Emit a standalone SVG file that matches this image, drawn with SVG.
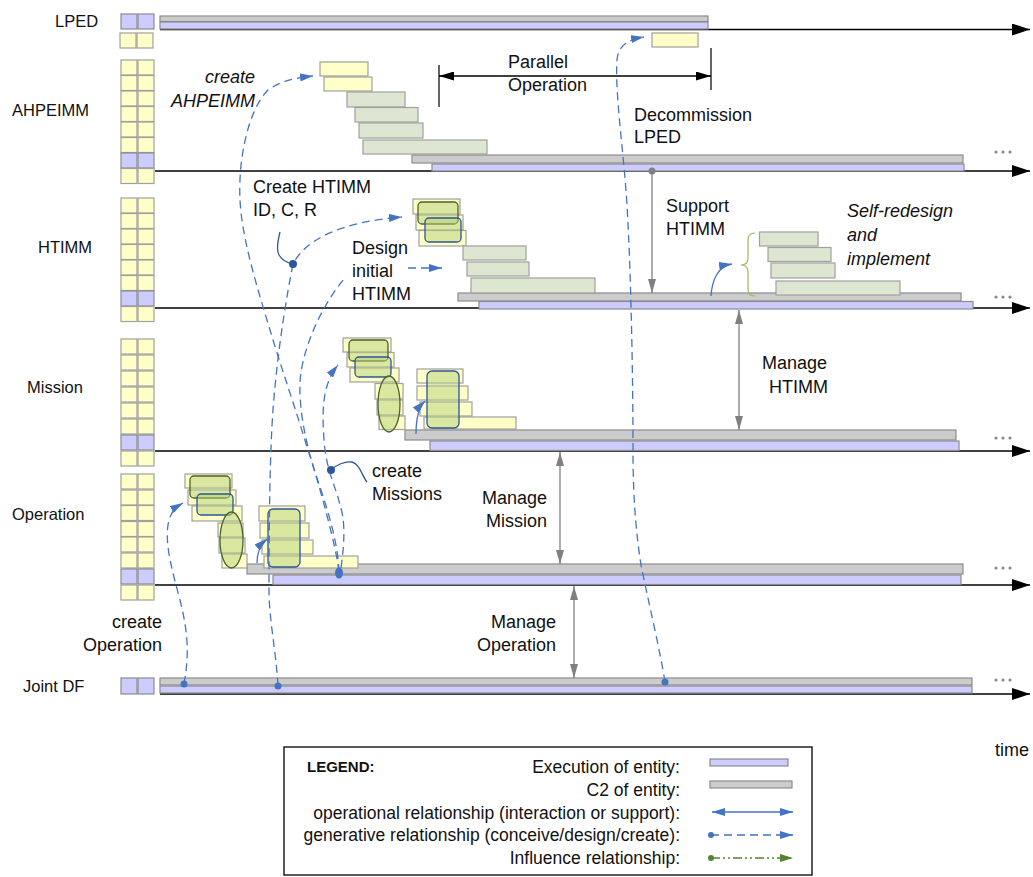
<svg xmlns="http://www.w3.org/2000/svg" width="1033" height="877" viewBox="0 0 1033 877">
<defs>
<style>
.lbl{font-family:"Liberation Sans",Arial,sans-serif;font-size:16.5px;fill:#111}
.ann{font-family:"Liberation Sans",Arial,sans-serif;font-size:18px;fill:#111}
.it{font-style:italic}
.lg{font-family:"Liberation Sans",Arial,sans-serif;font-size:17.5px;fill:#111;text-anchor:end}
.y{fill:#FFFFC8;stroke:#A0A0A0;stroke-width:1.2}
.p{fill:#CCCCFF;stroke:#8C8C8C;stroke-width:1.2}
.g{fill:#CCCCCC;stroke:#8C8C8C;stroke-width:1.2}
.gr{fill:#DCE6D0;stroke:#A0A0A0;stroke-width:1.2}
.ovg{fill:#B5CF7A;fill-opacity:.5;stroke:#4F6228;stroke-width:1.3}
.ovb{fill:#B5CF7A;fill-opacity:.5;stroke:#2F5597;stroke-width:1.3}
.ax{stroke:#000;stroke-width:1.3;fill:none;marker-end:url(#ah)}
.gen{stroke:#4472C4;stroke-width:1.3;fill:none;stroke-dasharray:8 5;marker-end:url(#ab)}
.op{stroke:#4472C4;stroke-width:1.3;fill:none;marker-end:url(#ab)}
.gy{stroke:#808080;stroke-width:1.3;fill:none;marker-end:url(#ag)}
.gy2{stroke:#808080;stroke-width:1.3;fill:none;marker-start:url(#ag);marker-end:url(#ag)}
.co{stroke:#2F5597;stroke-width:1.3;fill:none}
.dt{fill:#888}
</style>
<marker id="ah" markerUnits="userSpaceOnUse" markerWidth="20" markerHeight="12" refX="18" refY="6" orient="auto"><path d="M0,0 L18,6 L0,12 Z" fill="#000"/></marker>
<marker id="ak" markerUnits="userSpaceOnUse" markerWidth="16" markerHeight="9" refX="15" refY="4.5" orient="auto-start-reverse"><path d="M0,0 L15,4.5 L0,9 Z" fill="#000"/></marker>
<marker id="ab" markerUnits="userSpaceOnUse" markerWidth="14" markerHeight="8" refX="13" refY="4" orient="auto-start-reverse"><path d="M0,0 L13,4 L0,8 Z" fill="#4472C4"/></marker>
<marker id="ag" markerUnits="userSpaceOnUse" markerWidth="14" markerHeight="8" refX="14" refY="4" orient="auto-start-reverse"><path d="M0,0 L14,4 L0,8 Z" fill="#808080"/></marker>
<marker id="agr" markerUnits="userSpaceOnUse" markerWidth="14" markerHeight="8" refX="13" refY="4" orient="auto"><path d="M0,0 L13,4 L0,8 Z" fill="#548235"/></marker>
<g id="pY"><rect x="121" width="16" height="15" class="y"/><rect x="138" width="16" height="15" class="y"/></g>
<g id="pP"><rect x="121" width="16" height="15" class="p"/><rect x="138" width="16" height="15" class="p"/></g>
<g id="dots3"><circle cx="996" cy="0" r="1.6"/><circle cx="1003" cy="0" r="1.6"/><circle cx="1010" cy="0" r="1.6"/></g>
</defs>
<rect width="1033" height="877" fill="#fff"/>

<!-- axes -->
<g id="axes">
<path class="ax" d="M160,29.5 H1030"/>
<path class="ax" d="M155,171 H1030"/>
<path class="ax" d="M155,308 H1030"/>
<path class="ax" d="M155,451 H1030"/>
<path class="ax" d="M155,585 H1030"/>
<path class="ax" d="M160,694 H1030"/>
<g class="dt">
<use href="#dots3" y="152"/><use href="#dots3" y="297"/><use href="#dots3" y="438"/><use href="#dots3" y="568"/><use href="#dots3" y="680"/>
</g>
<text class="ann" x="995" y="756">time</text>
</g>

<!-- LPED -->
<g id="row-lped">
<text class="lbl" x="55" y="27">LPED</text>
<use href="#pP" y="14"/>
<use href="#pY" x="-1" y="33"/>
<rect x="160" y="16" width="548" height="5.5" class="g"/>
<rect x="160" y="22" width="548" height="7" class="p"/>
<rect x="652" y="33" width="46" height="14" class="y"/>
</g>

<!-- AHPEIMM -->
<g id="row-ahpeimm">
<text class="lbl" x="12" y="116">AHPEIMM</text>
<use href="#pY" y="60"/><use href="#pY" y="75.5"/><use href="#pY" y="91"/><use href="#pY" y="106.5"/><use href="#pY" y="122"/><use href="#pY" y="137.5"/><use href="#pP" y="153"/><use href="#pY" y="168.5"/>
<rect x="412" y="155" width="551" height="8" class="g"/>
<rect x="432" y="164" width="532" height="7" class="p"/>
<rect x="320" y="62" width="48" height="14" class="y"/>
<rect x="324" y="77" width="48" height="14" class="y"/>
<rect x="347" y="92" width="58" height="15" class="gr"/>
<rect x="355" y="107.5" width="63" height="14.5" class="gr"/>
<rect x="359" y="123" width="64" height="15" class="gr"/>
<rect x="363" y="140" width="124" height="14" class="gr"/>
</g>

<!-- HTIMM -->
<g id="row-htimm">
<text class="lbl" x="38" y="253">HTIMM</text>
<use href="#pY" y="198"/><use href="#pY" y="213.5"/><use href="#pY" y="229"/><use href="#pY" y="244.5"/><use href="#pY" y="260"/><use href="#pY" y="275.5"/><use href="#pP" y="291"/><use href="#pY" y="306.5"/>
<rect x="458" y="293" width="503" height="8" class="g"/>
<rect x="479" y="301.5" width="494" height="7.5" class="p"/>
<rect x="413" y="199" width="47" height="15" class="y"/>
<rect x="416" y="215" width="47" height="15" class="y"/>
<rect x="419" y="230.5" width="47" height="15.5" class="y"/>
<rect x="418" y="202" width="40" height="22" rx="4" class="ovg"/>
<rect x="425" y="218" width="36" height="24" rx="4" class="ovb"/>
<rect x="463" y="246" width="63" height="14" class="gr"/>
<rect x="467" y="262" width="62" height="14" class="gr"/>
<rect x="471" y="278" width="124" height="15" class="gr"/>
<rect x="759.5" y="232" width="58.5" height="14" class="gr"/>
<rect x="768" y="247.5" width="63" height="14" class="gr"/>
<rect x="771" y="263" width="64" height="15" class="gr"/>
<rect x="776" y="281" width="124" height="14" class="gr"/>
<path d="M755,233 Q748,233 748,240 L748,258 Q748,265 741,265 Q748,265 748,272 L748,289 Q748,296 755,296" fill="none" stroke="#9BBB59" stroke-width="1.2"/>
</g>

<!-- Mission -->
<g id="row-mission">
<text class="lbl" x="27" y="393">Mission</text>
<use href="#pY" y="339"/><use href="#pY" y="355"/><use href="#pY" y="371"/><use href="#pY" y="387"/><use href="#pY" y="403"/><use href="#pY" y="419"/><use href="#pP" y="435"/><use href="#pY" y="451"/>
<rect x="405" y="430" width="551" height="10" class="g"/>
<rect x="430" y="441" width="529" height="9.5" class="p"/>
<rect x="343" y="338" width="48" height="14" class="y"/>
<rect x="347" y="352.5" width="47" height="14.5" class="y"/>
<rect x="350" y="368" width="49" height="14" class="y"/>
<rect x="375" y="383.5" width="28" height="15.5" class="y"/>
<rect x="377" y="400" width="26" height="15" class="y"/>
<rect x="379" y="416" width="26" height="13.5" class="y"/>
<rect x="349" y="340" width="39" height="21" rx="4" class="ovg"/>
<rect x="355" y="357" width="36" height="20" rx="4" class="ovb"/>
<ellipse cx="389" cy="404" rx="11" ry="28" class="ovg"/>
<rect x="417" y="369" width="46" height="14" class="y"/>
<rect x="417" y="386" width="51" height="14" class="y"/>
<rect x="420" y="402" width="52" height="14" class="y"/>
<rect x="424" y="417" width="92" height="12" class="y"/>
<rect x="427" y="371" width="32" height="57" rx="5" class="ovb"/>
</g>

<!-- Operation -->
<g id="row-operation">
<text class="lbl" x="12" y="520">Operation</text>
<use href="#pY" y="474"/><use href="#pY" y="490"/><use href="#pY" y="505.5"/><use href="#pY" y="521.5"/><use href="#pY" y="537"/><use href="#pY" y="553"/><use href="#pP" y="569"/><use href="#pY" y="585"/>
<rect x="247" y="564" width="716" height="10" class="g"/>
<rect x="273" y="575" width="688" height="9.5" class="p"/>
<rect x="185" y="474" width="47" height="14" class="y"/>
<rect x="188" y="490" width="48" height="15" class="y"/>
<rect x="192" y="506" width="50" height="15" class="y"/>
<rect x="218" y="523" width="25" height="14" class="y"/>
<rect x="219" y="538" width="26" height="15" class="y"/>
<rect x="222" y="554" width="25" height="14" class="y"/>
<rect x="190" y="476" width="40" height="22" rx="4" class="ovg"/>
<rect x="197" y="494" width="36" height="21" rx="4" class="ovb"/>
<ellipse cx="231.5" cy="540" rx="11.5" ry="28" class="ovg"/>
<rect x="259" y="506" width="46" height="15" class="y"/>
<rect x="260" y="523" width="49" height="15" class="y"/>
<rect x="262" y="540" width="51" height="14" class="y"/>
<rect x="264" y="556" width="94" height="12" class="y"/>
<rect x="268" y="509" width="32" height="58" rx="5" class="ovb"/>
</g>

<!-- Joint DF -->
<g id="row-jointdf">
<text class="lbl" x="23" y="692">Joint DF</text>
<rect x="121" y="678" width="16" height="16" class="p"/><rect x="138" y="678" width="16" height="16" class="p"/>
<rect x="160" y="678" width="812" height="7" class="g"/>
<rect x="160" y="686" width="812" height="7" class="p"/>
</g>

<!-- annotations -->
<g id="annotations">
<text class="ann it" x="255" y="83" text-anchor="end">create</text>
<text class="ann it" x="255" y="107" text-anchor="end">AHPEIMM</text>
<text class="ann" x="508" y="68">Parallel</text>
<text class="ann" x="508" y="91">Operation</text>
<text class="ann" x="634" y="121">Decommission</text>
<text class="ann" x="634" y="143">LPED</text>
<text class="ann" x="253" y="193">Create HTIMM</text>
<text class="ann" x="253" y="216">ID, C, R</text>
<text class="ann" x="666" y="212">Support</text>
<text class="ann" x="666" y="235">HTIMM</text>
<text class="ann it" x="847" y="217">Self-redesign</text>
<text class="ann it" x="847" y="241">and</text>
<text class="ann it" x="847" y="265">implement</text>
<text class="ann" x="352" y="254">Design</text>
<text class="ann" x="352" y="277">initial</text>
<text class="ann" x="352" y="300">HTIMM</text>
<text class="ann" x="762" y="369">Manage</text>
<text class="ann" x="769" y="393">HTIMM</text>
<text class="ann" x="372" y="477">create</text>
<text class="ann" x="372" y="500">Missions</text>
<text class="ann" x="547" y="504" text-anchor="end">Manage</text>
<text class="ann" x="547" y="527" text-anchor="end">Mission</text>
<text class="ann" x="162" y="628" text-anchor="end">create</text>
<text class="ann" x="162" y="651" text-anchor="end">Operation</text>
<text class="ann" x="556" y="628" text-anchor="end">Manage</text>
<text class="ann" x="556" y="651" text-anchor="end">Operation</text>
</g>

<!-- connectors -->
<g id="connectors">
<path d="M439,65 V107 M711,48 V90" stroke="#333" stroke-width="1.5" fill="none"/>
<path d="M439,76 H711" stroke="#000" stroke-width="1.3" fill="none" marker-start="url(#ak)" marker-end="url(#ak)"/>
<circle cx="652" cy="171" r="3.5" fill="#808080"/>
<path class="gy" d="M652,171 V293"/>
<path class="gy2" d="M739,310 V430"/>
<path class="gy2" d="M560,452 V564"/>
<path class="gy2" d="M574,586 V678"/>
<path class="gen" d="M339,572 C336,545 318,480 307,447 C296,410 282,370 270,330 C258,290 242,240 240,200 C238,160 248,110 268,90 C282,80 296,78 313,76"/>
<path class="gen" d="M278,686 C276,650 269,620 269,590 C269,520 270,450 273,410 C276,370 282,320 293,264 C305,240 340,222 402,217"/>
<path class="gen" d="M339,572 C338,540 326,505 316,475 C306,445 299,410 300,383 C301,355 318,310 344,279" style="marker-end:none"/>
<path class="gen" d="M408,268 H442" stroke-dasharray="2 5 8 5"/>
<path class="gen" d="M341,568 C345,540 345,520 340,505 C336,487 326,470 324,440 C322,410 322,385 338,365"/>
<path class="gen" d="M665,682 C660,650 648,600 641,565 C634,520 633,480 633,450 C633,380 631,260 626,190 C622,140 615,90 617,60 C618,47 626,40 644,37"/>
<path class="gen" d="M184,684 C188,660 190,640 180,600 C172,570 165,545 168,525 C170,512 176,507 183,503"/>
<circle cx="184" cy="684" r="3.5" fill="#4472C4"/>
<circle cx="278" cy="686" r="3.5" fill="#4472C4"/>
<circle cx="665" cy="682" r="3.5" fill="#4472C4"/>
<ellipse cx="339" cy="573" rx="4" ry="5.5" fill="#4472C4"/>
<path class="co" d="M280,232 C278,240 276,250 279,255 C282,260 288,263 293,264"/>
<circle cx="293" cy="264" r="4" fill="#2F5597"/>
<path class="co" d="M331,470 C336,465 345,461 352,462 C360,464 362,476 367,482"/>
<circle cx="331" cy="470" r="4" fill="#2F5597"/>
<path class="op" d="M711,296 C712,280 718,266 732,264"/>
<path class="op" d="M416,434 C416,420 418,408 425,401"/>
<path class="op" d="M257,563 C257,552 260,545 267,539"/>
</g>

<!-- legend -->
<g id="legend">
<rect x="284" y="747" width="528" height="128" fill="#fff" stroke="#000" stroke-width="1.3"/>
<text x="307" y="772" font-family="Liberation Sans, Arial, sans-serif" font-size="15" font-weight="bold" fill="#111">LEGEND:</text>
<text class="lg" x="680" y="773">Execution of entity:</text>
<text class="lg" x="680" y="796">C2 of entity:</text>
<text class="lg" x="680" y="819">operational relationship (interaction or support):</text>
<text class="lg" x="680" y="841">generative relationship (conceive/design/create):</text>
<text class="lg" x="680" y="864">Influence relationship:</text>
<rect x="710" y="759" width="78" height="7" class="p"/>
<rect x="710" y="781" width="82" height="7" class="g"/>
<path d="M712,812 H793" stroke="#4472C4" stroke-width="1.3" fill="none" marker-start="url(#ab)" marker-end="url(#ab)"/>
<circle cx="711" cy="835" r="3" fill="#4472C4"/>
<path class="gen" d="M711,835 H793"/>
<circle cx="711" cy="858" r="3" fill="#548235"/>
<path d="M711,858 H793" stroke="#548235" stroke-width="1.3" fill="none" stroke-dasharray="9 3 2 3 2 3" marker-end="url(#agr)"/>
</g>
</svg>
